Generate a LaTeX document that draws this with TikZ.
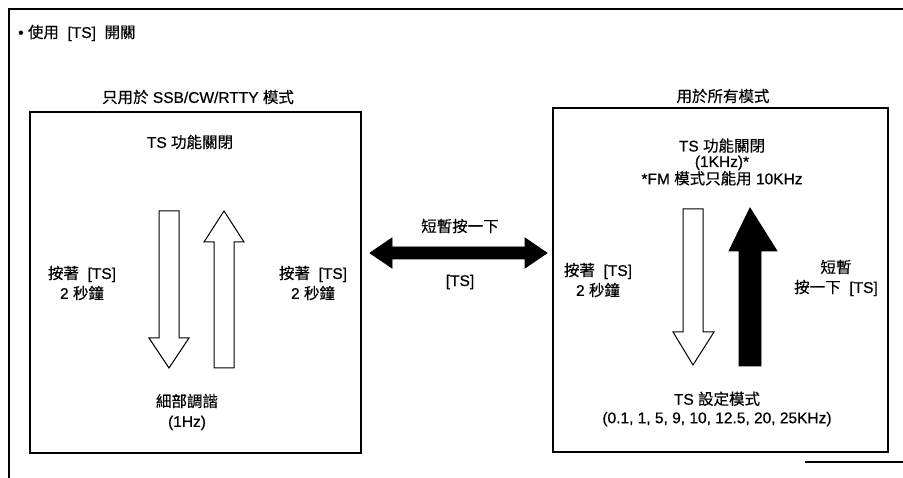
\documentclass[tikz,border=0pt]{standalone}
\usepackage{fontspec}
\setmainfont{Liberation Sans}[FakeBold=0.6]
\newfontfamily\cjk{Noto Sans CJK TC}[FakeBold=0.4]
\begin{document}
\begin{tikzpicture}[x=1pt,y=-1pt,
  txt/.style={font=\fontsize{15.5}{20}\selectfont, align=center, inner sep=0pt},
  tight/.style={font=\fontsize{15.5}{15.5}\selectfont},
  mid/.style={font=\fontsize{15.5}{18.5}\selectfont},
  panel/.style={draw, line width=1.3pt},
  hollow/.style={draw, line width=1pt, fill=white, line join=miter},
  solid/.style={draw, fill=black, line width=0.8pt, line join=miter}]
\useasboundingbox (0,0) rectangle (903,478);
% outer frame
\draw[line width=1.1pt] (8,9) -- (903,9);
\draw[line width=1.1pt] (9,9) -- (9,478);
\draw[line width=1.1pt] (805,462) -- (903,462);
% title
\node[txt, anchor=west] (title) at (18,33) {\textbullet\ {\cjk 使用}\ \ [TS]\ \ {\cjk 開關}};
% panels
\node[panel, minimum width=331pt, minimum height=341pt, inner sep=0pt] (lbox) at (195.5,282.5) {};
\node[panel, minimum width=335pt, minimum height=344pt, inner sep=0pt] (rbox) at (720.5,280) {};
\node[txt] (lcap) at (198,97) {{\cjk 只用於} SSB/CW/RTTY {\cjk 模式}};
\node[txt] (rcap) at (723,96) {{\cjk 用於所有模式}};
% left panel texts
\node[txt] (loff) at (190,142) {TS {\cjk 功能關閉}};
\node[txt] (lpress1) at (82,283) {{\cjk 按著}\ \ [TS]\\2 {\cjk 秒鐘}};
\node[txt] (lpress2) at (313,283) {{\cjk 按著}\ \ [TS]\\2 {\cjk 秒鐘}};
\node[txt] (lfine) at (187,412) {{\cjk 細部調諧}\\(1Hz)};
% left hollow arrows
\draw[hollow] (159,211) -- (179,211) -- (179,338) -- (189,338) -- (169,368) -- (149,338) -- (159,338) -- cycle;
\draw[hollow] (214,368) -- (234,368) -- (234,242) -- (244,242) -- (224,211) -- (204,242) -- (214,242) -- cycle;
% middle double arrow
\draw[solid] (370,253) -- (392,238) -- (392,247) -- (525,247) -- (525,238) -- (547,253) -- (525,268) -- (525,259) -- (392,259) -- (392,268) -- cycle;
\node[txt] (short) at (460,226) {{\cjk 短暫按一下}};
\node[txt] (tsm) at (460,282) {[TS]};
% right panel texts
\node[txt, tight] (roff) at (722,162) {TS {\cjk 功能關閉}\\(1KHz)*\\*FM {\cjk 模式只能用} 10KHz};
\node[txt] (rpress) at (598,280) {{\cjk 按著}\ \ [TS]\\2 {\cjk 秒鐘}};
\node[txt] (rshort) at (836,278) {{\cjk 短暫}\\{\cjk 按一下}\ \ [TS]};
\node[txt, mid] (rset) at (717,409) {TS {\cjk 設定模式}\\(0.1, 1, 5, 9, 10, 12.5, 20, 25KHz)};
% right arrows
\draw[hollow] (683,209) -- (703,209) -- (703,332) -- (714,332) -- (693,365) -- (673,332) -- (683,332) -- cycle;
\draw[solid] (739,366) -- (761,366) -- (761,251) -- (777,251) -- (750,208) -- (729,251) -- (739,251) -- cycle;
\end{tikzpicture}
\end{document}
